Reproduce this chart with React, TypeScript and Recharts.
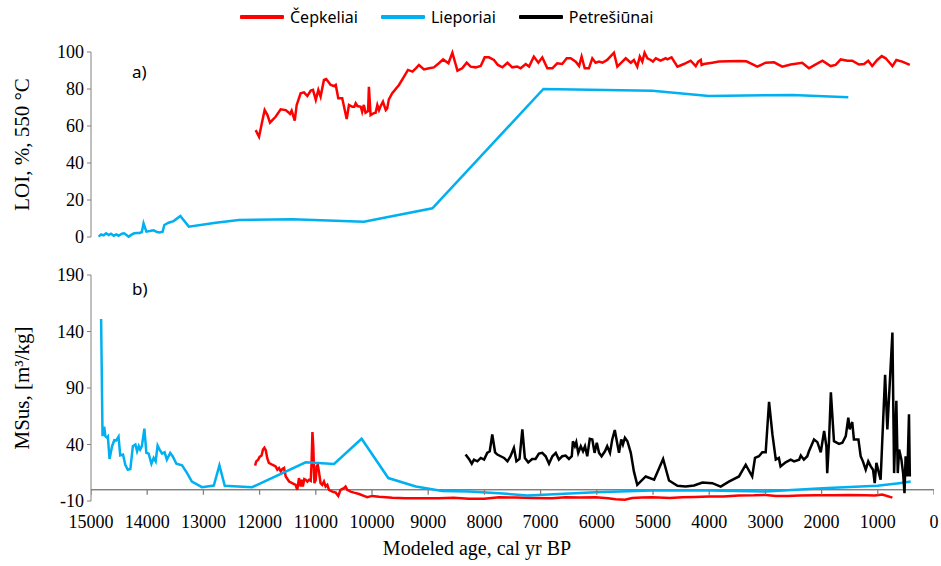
import { LineChart, Line, XAxis, YAxis, ReferenceLine } from 'recharts'

// age (cal yr BP) / value pairs
const cepkeliaiLoi: [number, number][] = [
  [12070, 57.8], [12010, 54.2], [11960, 61.5], [11910, 68.6], [11860, 65.9], [11815, 61.8], [11760, 63.6],
  [11715, 65.0], [11625, 69.0], [11535, 68.6], [11495, 67.6], [11460, 66.5], [11430, 68.3], [11375, 62.9],
  [11340, 71.4], [11270, 77.7], [11210, 78.2], [11150, 76.2], [11090, 79.1], [11050, 79.5], [11000, 74.1],
  [10955, 79.5], [10915, 75.9], [10855, 84.9], [10815, 85.4], [10735, 82.2], [10675, 81.6], [10645, 82.2],
  [10600, 75.0], [10530, 75.0], [10450, 63.8], [10410, 71.4], [10350, 70.4], [10315, 70.4], [10290, 72.3],
  [10260, 70.8], [10200, 70.4], [10175, 67.7], [10145, 71.4], [10115, 67.2], [10070, 68.1], [10055, 81.2],
  [10025, 65.9], [9975, 66.8], [9935, 67.2], [9905, 71.4], [9875, 68.6], [9845, 70.8], [9805, 73.1],
  [9755, 68.6], [9730, 69.5], [9700, 74.4], [9640, 77.7], [9520, 82.2], [9430, 86.7], [9360, 90.3],
  [9280, 89.4], [9220, 91.2], [9165, 93.0], [9075, 90.6], [8985, 91.2], [8900, 91.7], [8810, 93.9],
  [8735, 96.0], [8640, 93.9], [8570, 99.6], [8480, 89.9], [8395, 91.2], [8315, 94.2], [8245, 92.1],
  [8155, 91.7], [8065, 92.4], [7995, 97.1], [7920, 97.1], [7830, 95.7], [7760, 93.0], [7680, 91.7],
  [7590, 94.2], [7505, 91.7], [7415, 92.1], [7355, 91.2], [7265, 93.5], [7205, 92.1], [7120, 97.5],
  [7040, 94.2], [6970, 97.1], [6880, 91.2], [6790, 91.2], [6705, 93.9], [6615, 93.5], [6535, 96.6],
  [6465, 96.6], [6375, 94.8], [6315, 92.4], [6270, 97.5], [6215, 91.2], [6140, 91.2], [6080, 96.6],
  [6020, 94.2], [5960, 94.8], [5900, 94.2], [5815, 95.7], [5695, 99.6], [5635, 92.1], [5545, 94.8],
  [5485, 96.6], [5395, 94.2], [5340, 95.7], [5280, 92.1], [5235, 97.5], [5190, 94.8], [5150, 99.6],
  [5100, 96.6], [5040, 95.7], [5000, 94.8], [4950, 96.6], [4865, 95.3], [4775, 96.6], [4745, 96.0],
  [4670, 97.1], [4565, 92.1], [4450, 93.5], [4330, 95.3], [4240, 92.4], [4195, 94.8], [4150, 95.7],
  [4135, 93.0], [4095, 93.5], [3945, 94.2], [3825, 94.8], [3650, 95.0], [3470, 95.1], [3340, 95.0],
  [3235, 93.5], [3145, 92.1], [2995, 94.2], [2845, 94.4], [2700, 92.1], [2550, 93.2], [2345, 94.2],
  [2225, 91.2], [2135, 92.8], [1985, 95.3], [1840, 92.4], [1750, 93.0], [1660, 96.0], [1540, 95.3],
  [1455, 95.3], [1335, 93.2], [1245, 93.5], [1170, 95.3], [1100, 92.4], [1010, 95.7], [930, 97.8],
  [860, 96.6], [790, 94.2], [740, 92.4], [670, 95.7], [565, 94.8], [430, 93.0],
]

const lieporiaiLoi: [number, number][] = [
  [14865, 0.2], [14820, 1.4], [14775, 0.9], [14730, 2.0], [14685, 1.1], [14645, 1.8], [14595, 0.7],
  [14550, 1.4], [14510, 0.7], [14450, 1.8], [14410, 2.0], [14370, 1.1], [14330, 0.2], [14270, 1.4],
  [14230, 2.0], [14180, 2.2], [14135, 2.2], [14095, 2.7], [14065, 7.4], [14015, 2.9], [13955, 3.2],
  [13885, 3.6], [13825, 2.7], [13780, 2.5], [13725, 2.9], [13695, 6.5], [13620, 7.7], [13530, 8.6],
  [13410, 11.4], [13260, 5.6], [12780, 7.7], [12370, 9.2], [11420, 9.6], [10145, 8.3], [8925, 15.5],
  [6950, 80.0], [5010, 79.1], [4005, 76.2], [2520, 76.8], [1525, 75.5],
]

const lieporiaiMs: [number, number][] = [
  [14820, 151], [14795, 47.4], [14765, 55.8], [14745, 47.4], [14715, 46.0], [14700, 46.9], [14670, 27.2],
  [14625, 38.5], [14585, 43.8], [14550, 43.6], [14510, 46.9], [14480, 30.4], [14430, 31.1], [14390, 22.1],
  [14345, 17.7], [14300, 18.3], [14255, 38.5], [14210, 40.0], [14180, 34.0], [14150, 38.5], [14125, 35.5],
  [14095, 38.5], [14050, 54.0], [14015, 32.6], [13975, 32.0], [13925, 23.0], [13885, 28.1], [13850, 25.1],
  [13815, 39.1], [13780, 35.5], [13735, 32.0], [13690, 33.1], [13650, 26.6], [13590, 32.6], [13540, 29.0],
  [13480, 23.0], [13380, 21.5], [13290, 14.7], [13205, 7.2], [13025, 2.2], [12815, 3.7], [12715, 21.5],
  [12620, 3.4], [12135, 2.2], [11180, 24.2], [10675, 22.8], [10185, 45.1], [9710, 10.3], [9220, 2.8],
  [8750, -1.1], [8275, -1.7], [7740, -3.1], [7230, -5.2], [6020, -2.2], [5010, -0.8], [4005, -0.8],
  [2995, -1.7], [1985, 1.3], [1010, 3.4], [620, 5.8], [415, 7.2],
]

const cepkeliaiMs: [number, number][] = [
  [12080, 21.3], [12060, 25.1], [12025, 26.6], [12000, 29.0], [11965, 30.2], [11940, 35.5], [11915, 37.1],
  [11890, 34.9], [11865, 28.1], [11835, 23.7], [11775, 22.1], [11715, 20.6], [11685, 17.7], [11655, 19.2],
  [11625, 16.2], [11595, 18.3], [11565, 19.2], [11535, 11.7], [11475, 7.2], [11420, 5.8], [11360, 4.3],
  [11330, -0.2], [11300, 10.3], [11270, 2.8], [11250, 8.8], [11230, 2.8], [11205, 9.4], [11180, 8.8],
  [11150, 7.2], [11120, 8.8], [11090, 7.9], [11075, 23.7], [11060, 51.0], [11045, 38.5], [11025, 5.8],
  [11000, 8.8], [10985, 20.6], [10965, 22.1], [10945, 16.2], [10915, 5.8], [10885, 4.3], [10855, 7.2],
  [10825, 2.8], [10795, 4.3], [10765, -0.2], [10705, -1.7], [10645, -2.6], [10600, -5.5], [10560, -0.2],
  [10500, 1.3], [10470, 2.8], [10440, -0.2], [10380, -1.7], [10320, -2.6], [10230, -3.8], [10145, -5.5],
  [10085, -6.7], [9995, -5.5], [9875, -6.2], [9640, -7.1], [9400, -7.6], [9105, -7.6], [8810, -7.6],
  [8550, -7.2], [8275, -7.9], [8000, -7.9], [7740, -6.7], [7450, -7.0], [7150, -7.3], [6800, -7.6],
  [6555, -6.7], [6300, -6.9], [6020, -6.7], [5800, -7.6], [5665, -8.5], [5500, -8.8], [5370, -7.3],
  [5200, -7.0], [5010, -6.7], [4700, -7.4], [4480, -6.7], [4250, -6.4], [4005, -6.1], [3750, -6.0],
  [3470, -5.2], [3200, -5.0], [2995, -4.6], [2815, -5.5], [2600, -5.6], [2400, -5.2], [2100, -5.0],
  [1810, -4.9], [1500, -4.6], [1215, -4.9], [1050, -5.2], [920, -4.3], [740, -7.0],
]

const petresiunaiMs: [number, number][] = [
  [8335, 31.1], [8275, 27.2], [8225, 23.0], [8185, 26.6], [8125, 25.1], [8065, 28.1], [8005, 26.6],
  [7950, 32.6], [7905, 34.0], [7860, 48.9], [7810, 33.1], [7770, 31.1], [7710, 29.6], [7650, 28.1],
  [7590, 25.1], [7535, 29.6], [7475, 37.0], [7430, 25.1], [7375, 27.2], [7325, 53.4], [7280, 28.1],
  [7220, 24.2], [7150, 27.2], [7090, 27.2], [7030, 32.0], [6970, 32.6], [6910, 29.6], [6850, 23.0],
  [6790, 29.6], [6730, 32.6], [6675, 26.6], [6615, 29.6], [6555, 30.2], [6495, 27.2], [6445, 29.6],
  [6425, 42.9], [6390, 38.5], [6365, 42.1], [6330, 32.6], [6285, 38.5], [6245, 34.0], [6210, 38.5],
  [6170, 29.6], [6125, 45.1], [6080, 44.5], [6040, 32.6], [6000, 41.5], [5960, 32.6], [5915, 29.6],
  [5855, 34.0], [5815, 38.5], [5765, 32.6], [5725, 44.5], [5680, 52.8], [5655, 46.0], [5605, 32.6],
  [5565, 44.5], [5535, 40.0], [5500, 46.0], [5455, 42.9], [5395, 32.6], [5340, 16.2], [5280, 4.3],
  [5130, 11.7], [4980, 8.8], [4820, 27.2], [4715, 8.1], [4565, 3.4], [4420, 2.8], [4270, 3.7],
  [4120, 6.3], [3945, 5.8], [3795, 2.8], [3650, 7.2], [3470, 11.7], [3350, 22.1], [3235, 11.7],
  [3185, 28.1], [3115, 29.6], [3055, 33.1], [2995, 33.1], [2935, 77.8], [2875, 48.9], [2815, 26.6],
  [2760, 28.1], [2730, 20.6], [2640, 24.2], [2550, 26.6], [2490, 25.1], [2400, 26.6], [2370, 30.2],
  [2315, 26.6], [2255, 29.6], [2225, 34.0], [2135, 44.5], [2075, 42.1], [2015, 33.1], [1955, 51.9],
  [1915, 38.5], [1900, 14.7], [1870, 40.9], [1835, 86.2], [1780, 42.9], [1690, 40.6], [1630, 41.5],
  [1570, 47.4], [1525, 63.8], [1500, 53.4], [1455, 59.9], [1425, 44.5], [1345, 44.5], [1305, 29.6],
  [1265, 25.1], [1215, 17.7], [1170, 25.1], [1125, 20.6], [1085, 17.7], [1055, 5.8], [1025, 23.7],
  [980, 14.7], [950, 8.8], [870, 101.6], [830, 53.4], [740, 139], [710, 14.7], [670, 78.7],
  [645, 14.7], [620, 35.5], [580, 26.6], [550, 14.7], [525, -3], [505, 29.6], [475, 11.7],
  [445, 66.8], [430, 11.7],
]

const ageTicks = [15000, 14000, 13000, 12000, 11000, 10000, 9000, 8000, 7000, 6000, 5000, 4000, 3000, 2000, 1000, 0]
const loiTicks = [0, 20, 40, 60, 80, 100]
const msTicks = [-10, 40, 90, 140, 190]

const RED = '#ff0000'
const BLUE = '#00b0f0'
const AXIS = '#808080'
const SERIF = '"Liberation Serif", "Times New Roman", serif'
const SANS = '"Noto Sans", "Open Sans", sans-serif'

const pts = (arr: [number, number][]) => arr.map(([age, v]) => ({ age, v }))

// the horizontal axis of panel b crosses at 0, with ticks hanging below
const zeroAxis = ageTicks.map(age => ({ age, v: 0 }))

const tickStyle = { fontSize: 18, fill: '#000', fontFamily: SERIF }

function YTitle({ viewBox, text }: any) {
  const cx = 22
  const cy = viewBox.y + viewBox.height / 2
  return (
    <text x={cx} y={cy} transform={`rotate(-90 ${cx} ${cy})`} textAnchor="middle" dominantBaseline="central"
      style={{ fontSize: 21, fontFamily: SERIF, fill: '#000' }}>
      {text}
    </text>
  )
}

function TickMark(props: any) {
  const { cx, cy } = props
  return <line x1={cx} y1={cy} x2={cx} y2={cy + 5} stroke={AXIS} strokeWidth={1.3} />
}

function LegendItem({ color, label }: { color: string; label: string }) {
  return (
    <div style={{ display: 'flex', alignItems: 'center', marginRight: 23 }}>
      <div style={{ width: 44, height: 4, background: color, marginRight: 6, borderRadius: 1 }} />
      <span>{label}</span>
    </div>
  )
}

export default function App() {
  return (
    <div style={{ position: 'absolute', left: 0, top: 0, width: 941, height: 566, background: '#fff' }}>
      <div style={{ position: 'absolute', left: 240, top: 6, display: 'flex', fontFamily: SANS, fontSize: 16, color: '#000' }}>
        <LegendItem color={RED} label="Čepkeliai" />
        <LegendItem color={BLUE} label="Lieporiai" />
        <LegendItem color="#000" label="Petrešiūnai" />
      </div>

      <div style={{ position: 'absolute', left: 0, top: 0 }}>
        <LineChart width={941} height={250} margin={{ top: 52, right: 7, bottom: 13, left: 0 }}>
          <XAxis type="number" dataKey="age" domain={[0, 15000]} reversed hide allowDataOverflow />
          <YAxis type="number" width={91} domain={[0, 100]} ticks={loiTicks} interval={0}
            tickSize={4} tickMargin={3} stroke={AXIS} tick={tickStyle}
            label={<YTitle text="LOI, %, 550 °C" />} />
          <Line data={pts(lieporiaiLoi)} dataKey="v" name="Lieporiai" stroke={BLUE} strokeWidth={2.5} dot={false} isAnimationActive={false} />
          <Line data={pts(cepkeliaiLoi)} dataKey="v" name="Čepkeliai" stroke={RED} strokeWidth={2.5} dot={false} isAnimationActive={false} />
        </LineChart>
      </div>

      <div style={{ position: 'absolute', left: 0, top: 250 }}>
        <LineChart width={941} height={316} margin={{ top: 25, right: 7, bottom: 24, left: 0 }}>
          <XAxis type="number" dataKey="age" domain={[0, 15000]} reversed allowDataOverflow
            ticks={ageTicks} interval={0} height={41} axisLine={false} tickLine={false}
            tickMargin={8} tick={tickStyle} />
          <YAxis type="number" width={91} domain={[-10, 190]} ticks={msTicks} interval={0}
            tickSize={4} tickMargin={3} stroke={AXIS} tick={tickStyle}
            label={<YTitle text="MSus, [m³/kg]" />} />
          <ReferenceLine y={0} stroke={AXIS} strokeWidth={1.3} />
          <Line data={zeroAxis} dataKey="v" name="axis" stroke={AXIS} strokeWidth={1.3} dot={<TickMark />}
            activeDot={false} legendType="none" isAnimationActive={false} />
          <Line data={pts(cepkeliaiMs)} dataKey="v" name="Čepkeliai" stroke={RED} strokeWidth={2.5} dot={false} isAnimationActive={false} />
          <Line data={pts(lieporiaiMs)} dataKey="v" name="Lieporiai" stroke={BLUE} strokeWidth={2.5} dot={false} isAnimationActive={false} />
          <Line data={pts(petresiunaiMs)} dataKey="v" name="Petrešiūnai" stroke="#000" strokeWidth={2.5} dot={false} isAnimationActive={false} />
        </LineChart>
      </div>

      <div style={{ position: 'absolute', left: 132, top: 60, fontFamily: SANS, fontSize: 17 }}>a)</div>
      <div style={{ position: 'absolute', left: 132, top: 277, fontFamily: SANS, fontSize: 17 }}>b)</div>
      <div style={{ position: 'absolute', left: 0, width: 954, top: 537, textAlign: 'center', fontFamily: SERIF, fontSize: 20 }}>
        Modeled age, cal yr BP
      </div>
    </div>
  )
}
